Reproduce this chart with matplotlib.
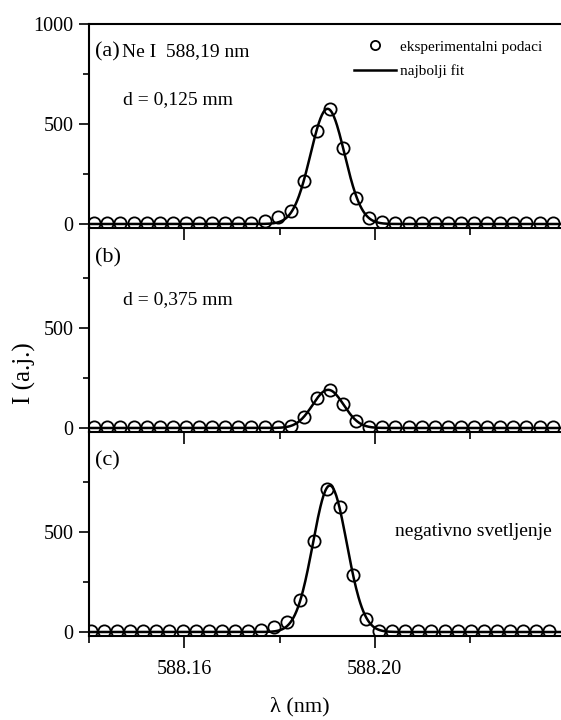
import numpy as np
import matplotlib
matplotlib.use("Agg")
import matplotlib.pyplot as plt
from matplotlib.ticker import MultipleLocator, FixedLocator

plt.rcParams["font.family"] = ["Liberation Serif", "DejaVu Serif"]

# measured wavelengths (nm), panels (a) and (b)
lam_ab = [588.14110, 588.14385, 588.14660, 588.14935, 588.15210, 588.15485,
          588.15760, 588.16035, 588.16310, 588.16585, 588.16860, 588.17135,
          588.17410, 588.17685, 588.17960, 588.18235, 588.18510, 588.18785,
          588.19060, 588.19335, 588.19610, 588.19885, 588.20160, 588.20435,
          588.20710, 588.20985, 588.21260, 588.21535, 588.21810, 588.22085,
          588.22360, 588.22635, 588.22910, 588.23185, 588.23460, 588.23735]
# measured wavelengths (nm), panel (c)
lam_c = [588.14040, 588.14315, 588.14590, 588.14865, 588.15140, 588.15415,
         588.15690, 588.15965, 588.16240, 588.16515, 588.16790, 588.17065,
         588.17340, 588.17615, 588.17890, 588.18165, 588.18440, 588.18715,
         588.18990, 588.19265, 588.19540, 588.19815, 588.20090, 588.20365,
         588.20640, 588.20915, 588.21190, 588.21465, 588.21740, 588.22015,
         588.22290, 588.22565, 588.22840, 588.23115, 588.23390, 588.23665]

int_a = [5, 5, 5, 5, 5, 5, 5, 5, 5, 5, 5, 5, 5, 15, 34, 67, 214, 467,
         576, 381, 131, 29, 12, 5, 5, 5, 5, 5, 5, 5, 5, 5, 5, 5, 5, 5]
int_b = [4, 4, 4, 4, 4, 4, 4, 4, 4, 4, 4, 4, 4, 4, 4, 10, 55, 148,
         188, 122, 35, 6, 4, 4, 4, 4, 4, 4, 4, 4, 4, 4, 4, 4, 4, 4]
int_c = [4, 4, 4, 4, 4, 4, 4, 4, 4, 4, 4, 4, 4, 8, 24, 49, 162, 457,
         716, 624, 287, 66, 7, 4, 4, 4, 4, 4, 4, 4, 4, 4, 4, 4, 4, 4]

x_ticks = [588.16, 588.20]
x_tick_labels = ["588.16", "588.20"]


def gauss_fit(lam, inten):
    """Least-squares Gaussian (amp, mu, sigma) fit, started from a log-parabola."""
    lam = np.asarray(lam)
    y = np.asarray(inten, dtype=float)
    sel = y > 0.05 * y.max()
    x0 = lam[sel].mean()
    c2, c1, c0 = np.polyfit(lam[sel] - x0, np.log(y[sel]), 2, w=y[sel])
    s2 = -1.0 / (2 * c2)
    p = np.array([np.exp(c0 + (c1 * s2) ** 2 / (2 * s2)), c1 * s2, np.sqrt(s2)])
    t = lam - x0
    for _ in range(30):  # Gauss-Newton
        a, m, s = p
        g = np.exp(-(t - m) ** 2 / (2 * s ** 2))
        J = np.column_stack([g, a * g * (t - m) / s ** 2,
                             a * g * (t - m) ** 2 / s ** 3])
        dp = np.linalg.lstsq(J, y - a * g, rcond=None)[0]
        p = p + dp
    a, m, s = p
    xx = np.linspace(588.14, 588.24, 600)
    return xx, a * np.exp(-(xx - x0 - m) ** 2 / (2 * s ** 2))


W, H = 561, 720
fig = plt.figure(figsize=(W / 100, H / 100), dpi=100)
left = 89 / W
tops = [24, 228, 432]
ph = 204

axes = []
for i, (lam, inten) in enumerate([(lam_ab, int_a), (lam_ab, int_b), (lam_c, int_c)]):
    top = tops[i]
    ax = fig.add_axes([left, 1 - (top + ph) / H, 1 - left, ph / H])
    xx, yy = gauss_fit(lam, inten)
    ax.plot(xx, yy, color="black", lw=1.8, label="najbolji fit", zorder=2)
    ax.plot(lam, inten, "o", mfc="none", mec="black", ms=8.8, mew=1.3,
            label="eksperimentalni podaci", zorder=3)
    ax.set_xlim(588.14, 588.2391)
    ax.set_ylim(-20, 1000)
    ax.xaxis.set_major_locator(FixedLocator(x_ticks))
    ax.xaxis.set_minor_locator(MultipleLocator(0.02))
    ax.set_yticks([0, 500, 1000] if i == 0 else [0, 500])
    ax.yaxis.set_minor_locator(FixedLocator([250, 750]))
    ax.tick_params(axis="y", which="major", direction="out", length=7,
                   width=1.2, labelsize=14.5, pad=4)
    ax.tick_params(axis="y", which="minor", direction="out", length=4,
                   width=1.2)
    ax.tick_params(axis="x", which="major", direction="out", length=8.5,
                   width=1.2, labelsize=14.5, pad=9)
    ax.tick_params(axis="x", which="minor", direction="out", length=5,
                   width=1.2)
    ax.spines["right"].set_visible(False)
    if i > 0:
        ax.spines["top"].set_visible(False)
    for s in ax.spines.values():
        s.set_linewidth(1.5)
    if i < 2:
        ax.tick_params(axis="x", labelbottom=False)
    else:
        ax.set_xticklabels(x_tick_labels)
    ax.patch.set_alpha(0)
    axes.append(ax)


def px(x, y, **kw):
    fig.text(x / W, 1 - y / H, **kw)


px(95, 52, s="(a)", fontsize=16, va="center")
px(122, 52, s="Ne I  588,19 nm", fontsize=14, va="center")
px(123, 100, s="d = 0,125 mm", fontsize=14, va="center")
px(95, 258, s="(b)", fontsize=16, va="center")
px(123, 300, s="d = 0,375 mm", fontsize=14, va="center")
px(95, 461, s="(c)", fontsize=16, va="center")
px(395, 531, s="negativno svetljenje", fontsize=14, va="center")
px(24, 373, s="I (a.j.)", fontsize=18, va="center", ha="center", rotation=90)
px(300, 707, s="λ (nm)", fontsize=16, va="center", ha="center")

h, l = axes[0].get_legend_handles_labels()
axes[0].legend([h[1], h[0]], [l[1], l[0]], loc="upper left",
               bbox_to_anchor=((354 - 89) / (W - 89), (228 - 40) / ph),
               frameon=False, fontsize=11, handlelength=2.75,
               handletextpad=0.25, labelspacing=0.7, borderpad=0,
               borderaxespad=0, markerscale=0.75)

fig.savefig("out.png", dpi=100, facecolor="white")
